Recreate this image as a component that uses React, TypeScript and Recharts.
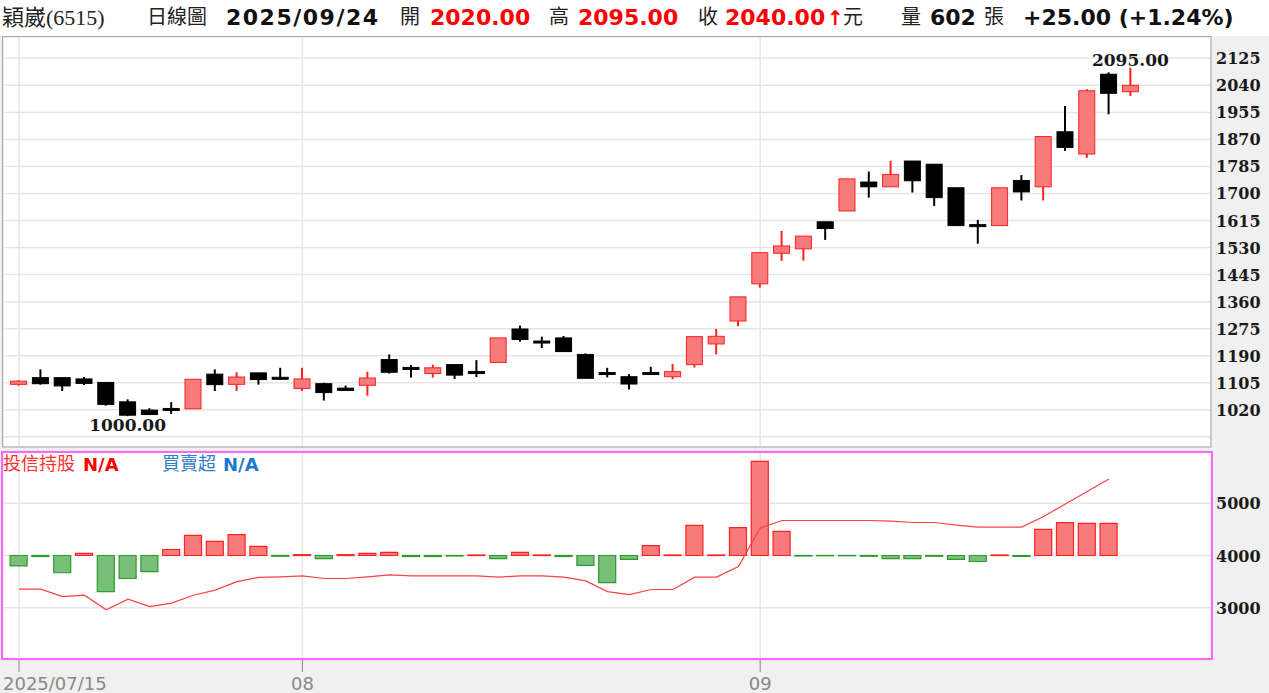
import React from 'react';
import { ComposedChart, Bar, Line, XAxis, YAxis, CartesianGrid, Cell } from 'recharts';

const dates = [
    '2025/07/15', '2025/07/16', '2025/07/17', '2025/07/18', '2025/07/21', '2025/07/22', '2025/07/23',
    '2025/07/24', '2025/07/25', '2025/07/28', '2025/07/29', '2025/07/30', '2025/07/31',
    '2025/08/01', '2025/08/04', '2025/08/05', '2025/08/06', '2025/08/07', '2025/08/08', '2025/08/11',
    '2025/08/12', '2025/08/13', '2025/08/14', '2025/08/15', '2025/08/18', '2025/08/19', '2025/08/20',
    '2025/08/21', '2025/08/22', '2025/08/25', '2025/08/26', '2025/08/27', '2025/08/28', '2025/08/29',
    '2025/09/01', '2025/09/02', '2025/09/03', '2025/09/04', '2025/09/05', '2025/09/08', '2025/09/09',
    '2025/09/10', '2025/09/11', '2025/09/12', '2025/09/15', '2025/09/16', '2025/09/17', '2025/09/18',
    '2025/09/19', '2025/09/22', '2025/09/23', '2025/09/24',
];

const opens = [
    1100, 1121, 1121, 1117, 1106, 1045, 1019, 1021, 1023, 1132, 1100, 1136, 1119,
    1087, 1102, 1088, 1097, 1178, 1150, 1134, 1162, 1137, 1169, 1274, 1233, 1246, 1194,
    1134, 1124, 1134, 1124, 1162, 1227, 1299,
    1416, 1512, 1526, 1611, 1645, 1736, 1721, 1802, 1792, 1718, 1599, 1599, 1741, 1721,
    1894, 1824, 2075, 2020,
];
const highs = [
    1113, 1147, 1121, 1123, 1106, 1053, 1025, 1044, 1116, 1147, 1138, 1136, 1152,
    1152, 1105, 1096, 1140, 1194, 1161, 1162, 1162, 1176, 1246, 1285, 1250, 1252, 1197,
    1152, 1132, 1155, 1164, 1250, 1274, 1375,
    1514, 1582, 1566, 1611, 1746, 1769, 1803, 1802, 1792, 1718, 1617, 1718, 1758, 1879,
    1975, 2028, 2081, 2095,
];
const lows = [
    1096, 1099, 1079, 1098, 1033, 1000, 1004, 1007, 1023, 1079, 1079, 1099, 1115,
    1079, 1049, 1081, 1064, 1134, 1121, 1121, 1117, 1123, 1169, 1234, 1214, 1202, 1119,
    1122, 1084, 1134, 1116, 1153, 1194, 1283,
    1404, 1488, 1489, 1554, 1645, 1687, 1721, 1703, 1661, 1599, 1542, 1599, 1678, 1678,
    1834, 1812, 1949, 2007,
];
const closes = [
    1110, 1102, 1095, 1103, 1037, 1003, 1005, 1021, 1116, 1099, 1123, 1115, 1119,
    1117, 1074, 1081, 1120, 1138, 1150, 1152, 1129, 1137, 1246, 1241, 1233, 1203, 1119,
    1134, 1101, 1134, 1140, 1250, 1251, 1375,
    1514, 1535, 1566, 1590, 1746, 1721, 1760, 1740, 1687, 1599, 1599, 1718, 1705, 1879,
    1845, 2023, 2015, 2040,
];

// 投信持股 (line) and 買賣超 (bars); the last day has no data yet
const holdings = [
    3356, 3356, 3214, 3240, 2960, 3165, 3023, 3088, 3240, 3337, 3500, 3580, 3592,
    3611, 3560, 3560, 3592, 3630, 3611, 3611, 3611, 3611, 3586, 3611, 3611, 3586, 3515,
    3310, 3253, 3349, 3349, 3586, 3586, 3790,
    4525, 4670, 4670, 4670, 4670, 4670, 4659, 4632, 4632, 4582, 4543, 4543, 4543, 4748,
    4985, 5226, 5464, null,
];
const netBuys = [
    -200, -20, -330, 40, -690, -440, -310, 115, 385, 270, 400, 175, -15,
    15, -60, 15, 40, 60, -20, -20, -10, 10, -60, 60, 10, -20, -190,
    -520, -75, 190, 10, 575, 10, 535,
    1800, 460, -10, -5, -5, -15, -60, -60, -15, -75, -115, 10, -15, 500,
    630, 615, 615, null,
];

const priceTicks = [935, 1020, 1105, 1190, 1275, 1360, 1445, 1530, 1615, 1700, 1785, 1870, 1955, 2040, 2125];
const holdTicks = [3000, 4000, 5000];

const data = dates.map((d, i) => ({
    idx: i,
    date: d,
    open: opens[i],
    high: highs[i],
    low: lows[i],
    close: closes[i],
    range: [lows[i], highs[i]],
    hold: holdings[i],
    net: netBuys[i],
}));

// month start ticks
const monthTicks = dates.map((d, i) => i).filter(i => i === 0 || dates[i].slice(5, 7) !== dates[i - 1].slice(5, 7));
const tickLabel = (i: number) => (i === 0 ? dates[i] : dates[i].slice(5, 7));

const maxIdx = highs.indexOf(Math.max(...highs));
const minIdx = lows.indexOf(Math.min(...lows));

const xDomain = [-0.734, 54.68];
const serifBold = '"DejaVu Serif", serif';
const RED = '#ff2020';
const RED_FILL = '#f77b7b';

const Candle = (props: any) => {
    const { x, y, width, height, payload } = props;
    if (!payload) return null;
    const { open, close, high, low, idx } = payload;
    const top = Math.min(y, y + height);
    const h = Math.abs(height);
    const ppu = h / (high - low);
    const yOf = (v: number) => top + (high - v) * ppu;
    const up = close > open;
    const stroke = up ? RED : '#000';
    const fill = up ? RED_FILL : '#000';
    const cx = x + width / 2;
    let bTop = yOf(Math.max(open, close));
    let bBot = yOf(Math.min(open, close));
    if (bBot - bTop < 2) {
        const m = (bTop + bBot) / 2;
        bTop = m - 1;
        bBot = m + 1;
    }
    return (
        <g>
            <line x1={cx} x2={cx} y1={top} y2={top + h} stroke={stroke} strokeWidth={2} />
            <rect x={x + 0.5} y={bTop} width={width - 1} height={bBot - bTop} fill={fill} stroke={stroke} strokeWidth={1} />
            {idx === maxIdx && (
                <text x={cx} y={top - 2} textAnchor="middle" fontFamily={serifBold} fontWeight="bold" fontSize={17} fill="#1a1a1a">
                    {high.toFixed(2)}
                </text>
            )}
            {idx === minIdx && (
                <text x={cx} y={top + h + 15} textAnchor="middle" fontFamily={serifBold} fontWeight="bold" fontSize={17} fill="#1a1a1a">
                    {low.toFixed(2)}
                </text>
            )}
        </g>
    );
};

const ValueTick = (props: any) => {
    const { x, y, payload, hideValue } = props;
    if (payload.value === hideValue) return null;
    return (
        <text x={x - 3} y={y} dy={6} textAnchor="start" fontFamily={serifBold} fontWeight="bold" fontSize={16} fill="#1a1a1a">
            {payload.value}
        </text>
    );
};

const DateTick = (props: any) => {
    const { x, y, payload } = props;
    const first = payload.value === 0;
    return (
        <text x={first ? 3 : x} y={y} dy={16} textAnchor={first ? 'start' : 'middle'} fontFamily='"DejaVu Sans", sans-serif' fontSize={18} fill="#888">
            {tickLabel(payload.value)}
        </text>
    );
};

const cjk = '"Noto Sans CJK TC", sans-serif';
const numFont = '"DejaVu Sans", sans-serif';

const Header = () => (
    <g>
        <text x={2} y={25} fontFamily='"Liberation Serif", "Noto Sans CJK TC", serif' fontSize={22} fill="#222">穎崴(6515)</text>
        <text x={147} y={24} fontFamily={cjk} fontSize={20} fill="#222">日線圖</text>
        <text x={226} y={25} fontFamily={numFont} fontWeight="bold" fontSize={22} letterSpacing={1.5} fill="#111">2025/09/24</text>
        <text x={400} y={24} fontFamily={cjk} fontSize={20} fill="#222">開</text>
        <text x={430} y={25} fontFamily={numFont} fontWeight="bold" fontSize={22} fill="#ff0000">2020.00</text>
        <text x={549} y={24} fontFamily={cjk} fontSize={20} fill="#222">高</text>
        <text x={578} y={25} fontFamily={numFont} fontWeight="bold" fontSize={22} fill="#ff0000">2095.00</text>
        <text x={698} y={24} fontFamily={cjk} fontSize={20} fill="#222">收</text>
        <text x={725} y={25} fontFamily={numFont} fontWeight="bold" fontSize={22} fill="#ff0000">2040.00</text>
        <text x={827} y={25} fontFamily={numFont} fontWeight="bold" fontSize={20} fill="#ff0000">↑</text>
        <text x={843} y={24} fontFamily={cjk} fontSize={20} fill="#222">元</text>
        <text x={901} y={24} fontFamily={cjk} fontSize={20} fill="#222">量</text>
        <text x={930} y={25} fontFamily={numFont} fontWeight="bold" fontSize={22} fill="#111">602</text>
        <text x={984} y={24} fontFamily={cjk} fontSize={20} fill="#222">張</text>
        <text x={1023} y={25} fontFamily={numFont} fontWeight="bold" fontSize={22} fill="#111">+25.00 (+1.24%)</text>
    </g>
);

const App: React.FC = () => {
    return (
        <div style={{ position: 'absolute', left: 0, top: 0, width: 1269, height: 693, background: '#f0f0f0', overflow: 'hidden' }}>
            <div style={{ position: 'absolute', left: 0, top: 0, width: 1269, height: 36, background: '#fff' }} />

            {/* price panel */}
            <div style={{ position: 'absolute', left: 0, top: 0 }}>
                <ComposedChart width={1269} height={450} data={data} margin={{ top: 37, right: 0, bottom: 3, left: 3 }}>
                    <CartesianGrid fill="#fff" stroke="#e6e6e6" strokeWidth={1.5} />
                    <XAxis dataKey="idx" type="number" domain={xDomain} allowDataOverflow ticks={monthTicks} hide />
                    <YAxis
                        orientation="right"
                        domain={[903, 2192]}
                        allowDataOverflow
                        ticks={priceTicks}
                        width={58}
                        axisLine={false}
                        tickLine={false}
                        tick={<ValueTick hideValue={935} />}
                    />
                    <Bar dataKey="range" barSize={17} shape={<Candle />} isAnimationActive={false} />
                </ComposedChart>
            </div>

            {/* investment trust panel */}
            <div style={{ position: 'absolute', left: 0, top: 440 }}>
                <ComposedChart width={1269} height={253} data={data} margin={{ top: 11, right: 0, bottom: 0, left: 3 }}>
                    <CartesianGrid yAxisId="hold" fill="#fff" stroke="#e6e6e6" strokeWidth={1.5} />
                    <XAxis
                        dataKey="idx"
                        type="number"
                        domain={xDomain}
                        allowDataOverflow
                        ticks={monthTicks}
                        height={33}
                        axisLine={false}
                        tickSize={12}
                        tickLine={{ stroke: '#888' }}
                        tick={<DateTick />}
                    />
                    <YAxis
                        yAxisId="hold"
                        orientation="right"
                        domain={[2000, 6000]}
                        allowDataOverflow
                        ticks={holdTicks}
                        width={58}
                        axisLine={false}
                        tickLine={false}
                        tick={<ValueTick />}
                    />
                    <YAxis yAxisId="net" domain={[-2000, 2000]} allowDataOverflow hide />
                    <Bar yAxisId="net" dataKey="net" barSize={17} isAnimationActive={false}>
                        {data.map(d => (
                            <Cell
                                key={d.idx}
                                fill={(d.net ?? 0) >= 0 ? RED_FILL : '#78c078'}
                                stroke={(d.net ?? 0) >= 0 ? RED : '#2f9a2f'}
                                strokeWidth={1.2}
                            />
                        ))}
                    </Bar>
                    <Line yAxisId="hold" type="linear" dataKey="hold" stroke="#ff4040" strokeWidth={1.2} dot={false} isAnimationActive={false} />
                </ComposedChart>
            </div>

            {/* header, legend and frames */}
            <svg width={1269} height={693} style={{ position: 'absolute', left: 0, top: 0, pointerEvents: 'none' }}>
                <Header />
                <rect x={2.5} y={36.5} width={1208.5} height={410.5} fill="none" stroke="#aaa" strokeWidth={1} />
                <rect x={2} y={452} width={1210} height={207} fill="none" stroke="#ff66ff" strokeWidth={2} />
                <text x={3} y={470} fontFamily={cjk} fontSize={18} fill="#ff3030">投信持股</text>
                <text x={83} y={471} fontFamily={numFont} fontWeight="bold" fontSize={18} fill="#ff0000">N/A</text>
                <text x={162} y={470} fontFamily={cjk} fontSize={18} fill="#2f80c8">買賣超</text>
                <text x={223} y={471} fontFamily={numFont} fontWeight="bold" fontSize={18} fill="#1a7ad0">N/A</text>
            </svg>
        </div>
    );
};

export default App;
